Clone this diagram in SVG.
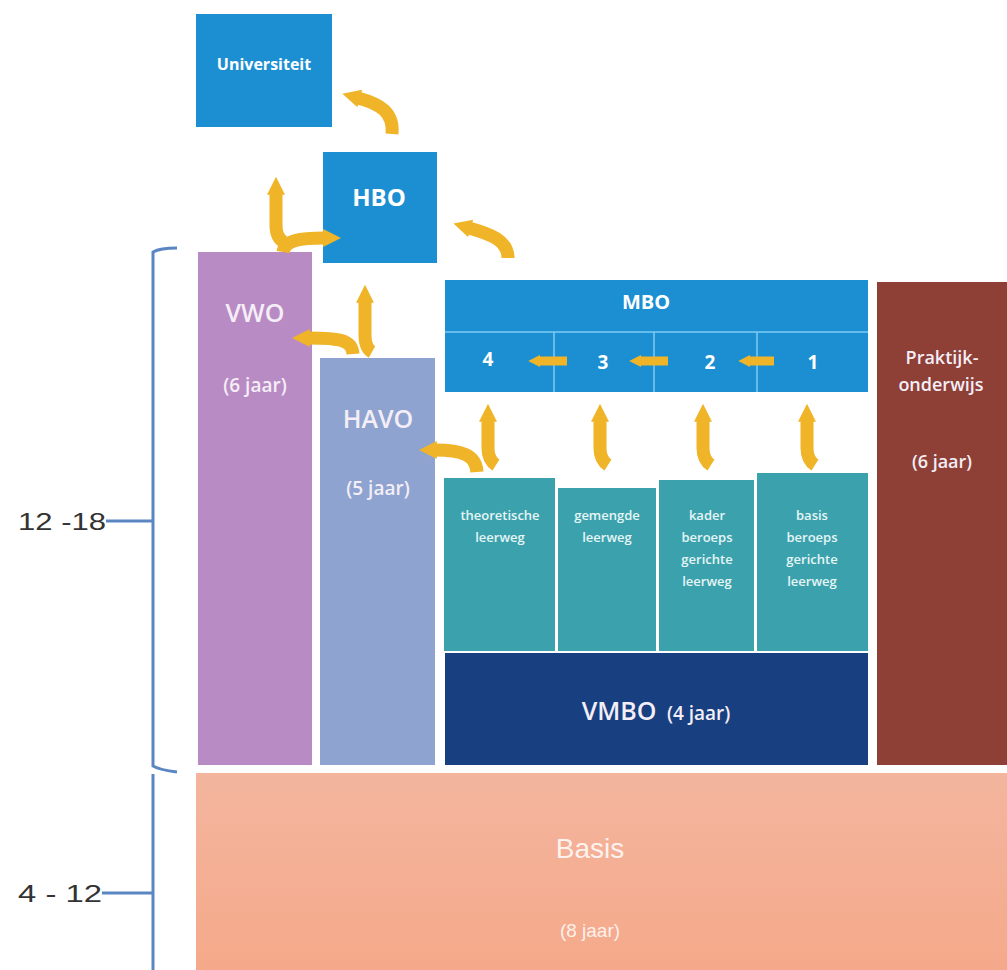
<svg xmlns="http://www.w3.org/2000/svg" width="1007" height="970" viewBox="0 0 1007 970">
<defs>
<style>
.lbl{font-family:"Open Sans","Liberation Sans",sans-serif;font-weight:bold;fill:#fff;text-anchor:middle}
.sub{font-family:"Open Sans","Liberation Sans",sans-serif;font-weight:600;fill:#f4eef6;text-anchor:middle}
.trk{font-family:"Open Sans","Liberation Sans",sans-serif;font-weight:600;fill:#e6f5f6;text-anchor:middle;font-size:13px}
.bas{font-family:"Liberation Sans",Arial,sans-serif;fill:#fff;fill-opacity:0.85;text-anchor:middle}
.age{font-family:"Liberation Sans",Arial,sans-serif;fill:#333;font-size:24px}
.arr{fill:none;stroke:#f0b429;stroke-width:13}
.arrs{fill:none;stroke:#f0b429;stroke-width:9}
.brk{fill:none;stroke:#5a86c2;stroke-width:3}
.div{stroke:#7fcaf0;stroke-width:1.5}
</style>
<marker id="ah" viewBox="0 0 10 10" refX="1" refY="5" markerWidth="18" markerHeight="32" markerUnits="userSpaceOnUse" orient="auto"><path d="M0,0 L10,5 L0,10 z" fill="#f0b429"/></marker>
<marker id="ahs" viewBox="0 0 10 10" refX="1" refY="5" markerWidth="12" markerHeight="20" markerUnits="userSpaceOnUse" orient="auto"><path d="M0,0 L10,5 L0,10 z" fill="#f0b429"/></marker>
<linearGradient id="basisG" x1="0" y1="0" x2="0" y2="1"><stop offset="0" stop-color="#f3b59e"/><stop offset="1" stop-color="#f5a98a"/></linearGradient>
</defs>
<rect width="1007" height="970" fill="#fff"/>

<g id="universiteit"><rect x="196" y="14" width="136" height="113" fill="#1b8fd2"/><text class="lbl" x="264" y="70" font-size="16">Universiteit</text></g>
<g id="hbo"><rect x="323" y="152" width="114" height="111" fill="#1b8fd2"/><text class="lbl" x="379" y="206" font-size="24">HBO</text></g>
<g id="vwo"><rect x="198" y="252" width="114" height="513" fill="#b98bc4"/><text class="sub" x="255" y="322" font-size="25">VWO</text><text class="sub" x="255" y="392" font-size="19">(6 jaar)</text></g>
<g id="havo"><rect x="320" y="358" width="115" height="407" fill="#8ea3cf"/><text class="sub" x="378" y="428" font-size="25">HAVO</text><text class="sub" x="378" y="495" font-size="19">(5 jaar)</text></g>
<g id="mbo"><rect x="445" y="280" width="423" height="112" fill="#1b8fd2"/>
<line class="div" x1="445" y1="332" x2="868" y2="332"/>
<line class="div" x1="554" y1="332" x2="554" y2="392"/>
<line class="div" x1="654" y1="332" x2="654" y2="392"/>
<line class="div" x1="757" y1="332" x2="757" y2="392"/>
<text class="lbl" x="646" y="309" font-size="20">MBO</text>
<text class="lbl" x="488" y="366" font-size="19">4</text>
<text class="lbl" x="603" y="369" font-size="19">3</text>
<text class="lbl" x="710" y="369" font-size="19">2</text>
<text class="lbl" x="813" y="369" font-size="19">1</text>
</g>
<g id="praktijkonderwijs"><rect x="877" y="282" width="130" height="483" fill="#8e3f36"/><text class="sub" x="942" y="364" font-size="18">Praktijk-</text><text class="sub" x="941" y="391" font-size="18">onderwijs</text><text class="sub" x="942" y="468" font-size="18">(6 jaar)</text></g>
<g id="theoretische"><rect x="444" y="478" width="111" height="173" fill="#3ba2ad"/><text class="trk" x="500" y="520">theoretische</text><text class="trk" x="500" y="542">leerweg</text></g>
<g id="gemengde"><rect x="558" y="488" width="98" height="163" fill="#3ba2ad"/><text class="trk" x="607" y="520">gemengde</text><text class="trk" x="607" y="542">leerweg</text></g>
<g id="kader"><rect x="659" y="480" width="95" height="171" fill="#3ba2ad"/><text class="trk" x="707" y="520">kader</text><text class="trk" x="707" y="542">beroeps</text><text class="trk" x="707" y="564">gerichte</text><text class="trk" x="707" y="586">leerweg</text></g>
<g id="basis-beroeps"><rect x="757" y="473" width="111" height="178" fill="#3ba2ad"/><text class="trk" x="812" y="520">basis</text><text class="trk" x="812" y="542">beroeps</text><text class="trk" x="812" y="564">gerichte</text><text class="trk" x="812" y="586">leerweg</text></g>
<g id="vmbo"><rect x="445" y="653" width="423" height="112" fill="#183f80"/><text class="sub" x="656" y="720" font-size="25" fill="#fff">VMBO <tspan font-size="19" dx="4">(4 jaar)</tspan></text></g>
<g id="basis"><rect x="196" y="773" width="811" height="197" fill="url(#basisG)"/><text class="bas" x="590" y="858" font-size="28">Basis</text><text class="bas" x="590" y="937" font-size="19">(8 jaar)</text></g>

<g id="ages">
<path class="brk" d="M177 248 Q160 248 153 252 L153 766 Q160 770 177 772 M153 774 L153 970"/>
<line class="brk" x1="106" y1="521" x2="153" y2="521"/>
<line class="brk" x1="102" y1="893" x2="153" y2="893"/>
<text class="age" x="18" y="530" textLength="88" lengthAdjust="spacingAndGlyphs">12 -18</text>
<text class="age" x="18" y="902" textLength="84" lengthAdjust="spacingAndGlyphs">4 - 12</text>
</g>

<g id="connectors">
<path class="arr" marker-end="url(#ah)" d="M392 134 C394 112 380 104 358 98"/>
<path class="arr" marker-end="url(#ah)" d="M284 242 Q276 238 276 225 L276 193"/>
<path class="arr" marker-end="url(#ah)" d="M283 252 C285 240 300 238 325 238"/>
<path class="arr" marker-end="url(#ah)" d="M508 258 C508 240 490 234 469 228"/>
<path class="arr" marker-end="url(#ah)" d="M372 352 Q365 348 365 335 L365 301"/>
<path class="arr" marker-end="url(#ah)" d="M353 354 C352 340 340 338 308 338"/>
<path class="arr" marker-end="url(#ah)" d="M477 472 C476 455 462 450 435 450"/>
<path class="arr" marker-end="url(#ah)" d="M496 465 Q488 460 488 448 L488 420"/>
<path class="arr" marker-end="url(#ah)" d="M608 465 Q600 460 600 448 L600 420"/>
<path class="arr" marker-end="url(#ah)" d="M711 465 Q703 460 703 448 L703 420"/>
<path class="arr" marker-end="url(#ah)" d="M815 465 Q807 460 807 448 L807 420"/>
<path class="arrs" marker-end="url(#ahs)" d="M567 361 L539 361"/>
<path class="arrs" marker-end="url(#ahs)" d="M668 361 L640 361"/>
<path class="arrs" marker-end="url(#ahs)" d="M774 361 L749 361"/>
</g>
</svg>
